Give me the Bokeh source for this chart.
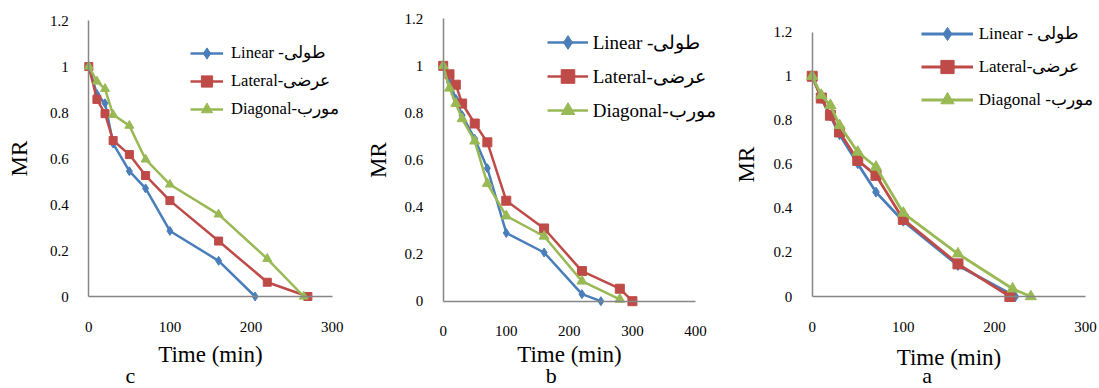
from bokeh.plotting import figure
from bokeh.models import Range1d, FixedTicker, Legend, LegendItem, Label
from bokeh.layouts import row
from bokeh.embed import file_html
from bokeh.resources import INLINE

# ---------------- data ----------------
# panel c
c_t_lin = [0, 10, 20, 30, 50, 70, 100, 160, 205]
c_lin = [1.0, 0.88, 0.84, 0.665, 0.545, 0.47, 0.285, 0.155, 0.0]
c_t_lat = [0, 10, 20, 30, 50, 70, 100, 160, 220, 270]
c_lat = [1.0, 0.857, 0.795, 0.678, 0.617, 0.526, 0.417, 0.241, 0.062, 0.0]
c_t_dia = [0, 10, 20, 30, 50, 70, 100, 160, 220, 265]
c_dia = [1.0, 0.935, 0.903, 0.79, 0.743, 0.596, 0.487, 0.357, 0.164, 0.0]

# panel b
b_t_lin = [0, 10, 20, 30, 50, 70, 100, 160, 220, 250]
b_lin = [1.0, 0.93, 0.86, 0.79, 0.69, 0.565, 0.29, 0.207, 0.03, 0.0]
b_t_lat = [0, 10, 20, 30, 50, 70, 100, 160, 220, 280, 300]
b_lat = [1.0, 0.964, 0.92, 0.84, 0.755, 0.675, 0.427, 0.309, 0.128, 0.053, 0.0]
b_t_dia = [0, 10, 20, 30, 50, 70, 100, 160, 220, 280]
b_dia = [1.0, 0.905, 0.84, 0.775, 0.68, 0.50, 0.362, 0.276, 0.085, 0.008]

# panel a
a_t_lin = [0, 10, 20, 30, 50, 70, 100, 160, 223]
a_lin = [1.0, 0.9, 0.82, 0.735, 0.603, 0.474, 0.342, 0.141, 0.0]
a_t_lat = [0, 10, 20, 30, 50, 70, 100, 160, 217]
a_lat = [1.0, 0.901, 0.823, 0.747, 0.618, 0.55, 0.35, 0.148, 0.0]
a_t_dia = [0, 10, 20, 30, 50, 70, 100, 160, 220, 240]
a_dia = [1.0, 0.914, 0.868, 0.777, 0.656, 0.588, 0.379, 0.194, 0.035, 0.0]

names_c = ["Linear -طولی", "Lateral-عرضی", "Diagonal-مورب"]
names_b = ["Linear -طولی", "Lateral-عرضی", "Diagonal-مورب"]
names_a = ["Linear - طولی", "Lateral-عرضی", "Diagonal -مورب"]

x_ticks_300 = [0, 100, 200, 300]
x_ticks_400 = [0, 100, 200, 300, 400]
y_ticks = [0, 0.2, 0.4, 0.6, 0.8, 1, 1.2]
y_tick_labels = ["0", "0.2", "0.4", "0.6", "0.8", "1", "1.2"]
x_title = "Time (min)"
y_title = "MR"

BLUE = "#4A7EBB"
RED = "#BE4B48"
GREEN = "#98B954"
AXIS = "#868686"
FONT = "'Liberation Serif', 'Times New Roman', serif"
H = 388


def make_panel(series, names, xmax, xticks, letter, L):
    # L: pixel layout of this panel (positions inside the figure)
    W = L["W"]
    x0, xend = L["x0"], L["xend"]          # pixel of x=0 and x=xmax
    y0, ytop = L["y0"], L["ytop"]          # pixel (from top) of y=0 and y=1.2
    kx = (xend - x0) / xmax
    ky = (y0 - ytop) / 1.2
    p = figure(width=W, height=H,
               x_range=Range1d(-x0 / kx, (W - x0) / kx),
               y_range=Range1d(-(H - y0) / ky, y0 / ky),
               min_border=0, min_border_left=0, min_border_right=0,
               min_border_top=0, min_border_bottom=0,
               output_backend="svg", toolbar_location=None, tools="")
    p.outline_line_color = None
    p.xgrid.visible = False
    p.ygrid.visible = False
    p.background_fill_color = "white"
    p.border_fill_color = "white"

    for ax in (p.xaxis[0], p.yaxis[0]):
        ax.axis_line_color = AXIS
        ax.axis_line_width = 1.5
        ax.major_tick_line_color = None
        ax.minor_tick_line_color = None
        ax.major_tick_out = 0
        ax.major_tick_in = 0
        ax.minor_tick_out = 0
        ax.major_label_text_font = FONT
        ax.major_label_text_font_size = L["tick_fs"]
        ax.major_label_text_color = "black"
        ax.axis_label_text_font = FONT
        ax.axis_label_text_font_size = "23px"
        ax.axis_label_text_font_style = "normal"
        ax.axis_label_text_color = "black"
        ax.fixed_location = 0

    p.xaxis.bounds = (0, xmax)
    p.yaxis.bounds = (0, 1.2)
    p.xaxis.ticker = FixedTicker(ticks=xticks)
    p.xaxis.major_label_overrides = {t: str(t) for t in xticks}
    p.yaxis.ticker = FixedTicker(ticks=y_ticks)
    p.yaxis.major_label_overrides = dict(zip(y_ticks, y_tick_labels))
    p.xaxis.axis_label = x_title
    p.yaxis.axis_label = y_title
    p.xaxis.major_label_standoff = 25
    p.yaxis.major_label_standoff = 20
    p.xaxis.axis_label_standoff = L["xlab_so"]
    p.yaxis.axis_label_standoff = L["ylab_so"]

    items = []
    for (t, v, color, marker, size), name in zip(series, names):
        ln = p.line(t, v, line_color=color, line_width=L["lw"])
        sc = p.scatter(t, v, marker=marker, size=size, fill_color=color, line_color=color)
        items.append(LegendItem(label=name, renderers=[ln, sc]))

    legend = Legend(items=items, location=L["leg_loc"],
                    glyph_width=L["gw"], glyph_height=L["gh"], label_height=L["gh"],
                    label_standoff=L["lso"], spacing=0, padding=0, margin=0,
                    border_line_color=None, background_fill_alpha=0,
                    label_text_font=FONT, label_text_font_size=L["leg_fs"],
                    label_text_color="black")
    p.add_layout(legend)

    p.add_layout(Label(x=L["let"][0], y=L["let"][1], x_units="screen", y_units="screen",
                       text=letter, text_font=FONT, text_font_size="22px",
                       text_align="center", text_baseline="bottom", text_color="black"))
    return p


pc = make_panel(
    [(c_t_lin, c_lin, BLUE, "diamond", 9),
     (c_t_lat, c_lat, RED, "square", 8),
     (c_t_dia, c_dia, GREEN, "triangle", 9)],
    names_c, 300, x_ticks_300, "c",
    dict(W=360, x0=88.3, xend=331.7, y0=296, ytop=20, tick_fs="15px",
         xlab_so=7, ylab_so=15, lw=2.5, leg_loc=(190, 265), gw=33, gh=28, lso=8,
         leg_fs="16.5px", let=(130, 1)))

pb = make_panel(
    [(b_t_lin, b_lin, BLUE, "diamond", 9),
     (b_t_lat, b_lat, RED, "square", 9),
     (b_t_dia, b_dia, GREEN, "triangle", 10)],
    names_b, 400, x_ticks_400, "b",
    dict(W=370, x0=82.7, xend=335, y0=300.7, ytop=18.3, tick_fs="15px",
         xlab_so=2, ylab_so=11, lw=2.5, leg_loc=(186.7, 261), gw=41, gh=34, lso=5,
         leg_fs="19px", let=(190.7, 1)))

pa = make_panel(
    [(a_t_lin, a_lin, BLUE, "diamond", 10),
     (a_t_lat, a_lat, RED, "square", 10),
     (a_t_dia, a_dia, GREEN, "triangle", 11)],
    names_a, 300, x_ticks_300, "a",
    dict(W=369, x0=81.7, xend=355, y0=296, ytop=31.7, tick_fs="15px",
         xlab_so=10, ylab_so=12, lw=2.8, leg_loc=(190.7, 272.5), gw=52, gh=33, lso=6,
         leg_fs="17px", let=(196.7, 1)))

layout = row(pc, pb, pa, spacing=0)
open("out.html", "w").write(file_html(layout, INLINE))
